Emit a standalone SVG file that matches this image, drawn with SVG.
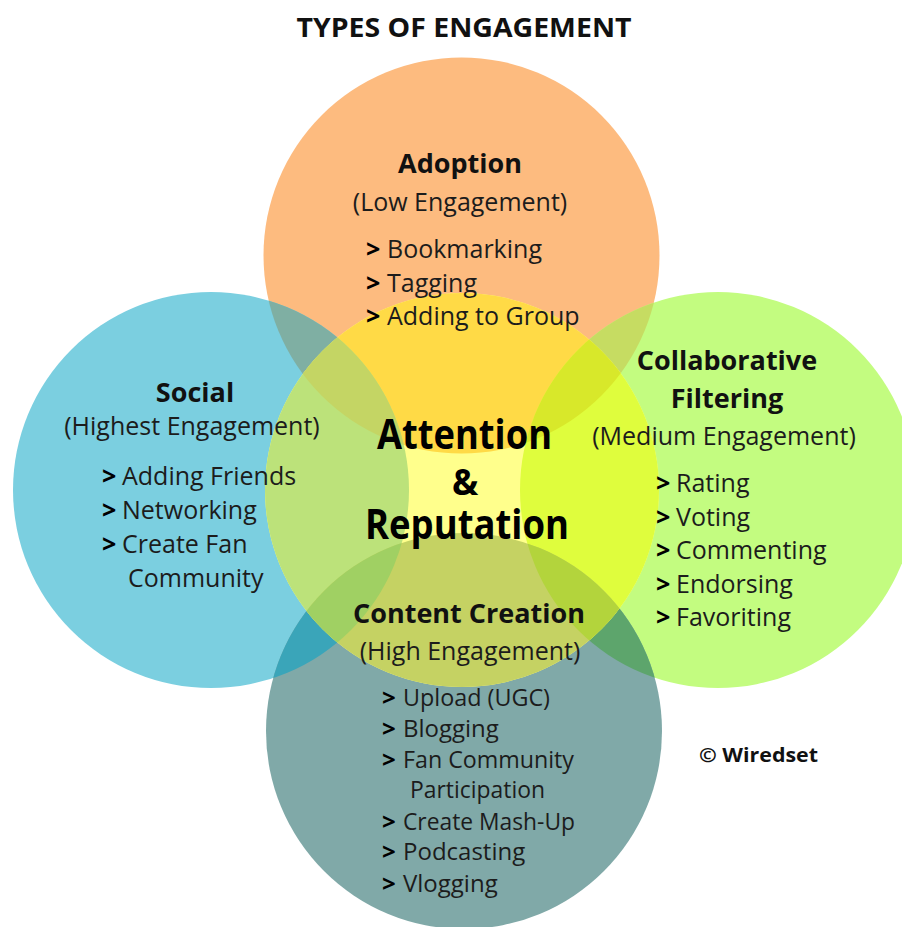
<svg xmlns="http://www.w3.org/2000/svg" width="902" height="927" viewBox="0 0 902 927">
<style>
text{font-family:"Open Sans","Liberation Sans",sans-serif;fill:#1c1c1c}
.h{font-weight:700;font-size:27px;fill:#111;text-anchor:middle}
.s{font-size:25px;text-anchor:middle}
.t{font-size:25px}
.u{font-size:24px}
.b{font-weight:700;fill:#000}
.big{font-weight:700;font-size:42px;fill:#000;text-anchor:middle}
</style>
<defs>
<clipPath id="cpO"><circle cx="461.5" cy="255.5" r="198"/></clipPath>
<clipPath id="cpT"><circle cx="464" cy="731" r="198"/></clipPath>
<clipPath id="cpC"><circle cx="462" cy="490" r="197"/></clipPath>
</defs>
<rect width="902" height="927" fill="#ffffff"/>
<g id="circles">
<circle id="c-adoption" cx="461.5" cy="255.5" r="198" fill="#FDBB7F"/>
<circle id="c-social" cx="211" cy="490" r="198" fill="#7BCFE0"/>
<circle id="c-collab" cx="718" cy="490" r="198" fill="#C3FC80"/>
<circle id="c-content" cx="464" cy="731" r="198" fill="#80A9A8"/>
<g clip-path="url(#cpO)">
<circle cx="211" cy="490" r="198" fill="#7FAFA3"/>
<circle cx="718" cy="490" r="198" fill="#C6DC62"/>
</g>
<g clip-path="url(#cpT)">
<circle cx="211" cy="490" r="198" fill="#3AA5B9"/>
<circle cx="718" cy="490" r="198" fill="#5DA56C"/>
</g>
<circle id="c-center" cx="462" cy="490" r="197" fill="#FFFF8C"/>
<g clip-path="url(#cpC)">
<circle cx="461.5" cy="255.5" r="198" fill="#FFDA46"/>
<circle cx="211" cy="490" r="198" fill="#BCE27A"/>
<circle cx="718" cy="490" r="198" fill="#DFFD3D"/>
<circle cx="464" cy="731" r="198" fill="#C5D263"/>
<g clip-path="url(#cpO)">
<circle cx="211" cy="490" r="198" fill="#C4D564"/>
<circle cx="718" cy="490" r="198" fill="#D8E82A"/>
</g>
<g clip-path="url(#cpT)">
<circle cx="211" cy="490" r="198" fill="#A0D063"/>
<circle cx="718" cy="490" r="198" fill="#B3D43C"/>
</g>
</g>
</g>
<g id="title">
<text class="h" x="464" y="37" textLength="335" lengthAdjust="spacingAndGlyphs">TYPES OF ENGAGEMENT</text>
</g>
<g id="adoption">
<text class="h" x="460" y="173">Adoption</text>
<text class="s" x="460" y="211">(Low Engagement)</text>
<text class="t" x="366" y="258"><tspan class="b">&gt;</tspan><tspan x="387">Bookmarking</tspan></text>
<text class="t" x="366" y="292"><tspan class="b">&gt;</tspan><tspan x="387">Tagging</tspan></text>
<text class="t" x="366" y="325"><tspan class="b">&gt;</tspan><tspan x="387">Adding to Group</tspan></text>
</g>
<g id="social">
<text class="h" x="195" y="402">Social</text>
<text class="s" x="192" y="435">(Highest Engagement)</text>
<text class="t" x="102" y="485"><tspan class="b">&gt;</tspan><tspan x="122">Adding Friends</tspan></text>
<text class="t" x="102" y="519"><tspan class="b">&gt;</tspan><tspan x="122">Networking</tspan></text>
<text class="t" x="102" y="553"><tspan class="b">&gt;</tspan><tspan x="122">Create Fan</tspan></text>
<text class="t" x="128" y="587">Community</text>
</g>
<g id="collab">
<text class="h" x="727" y="370">Collaborative</text>
<text class="h" x="727" y="408">Filtering</text>
<text class="s" x="724" y="445">(Medium Engagement)</text>
<text class="t" x="656" y="492"><tspan class="b">&gt;</tspan><tspan x="676">Rating</tspan></text>
<text class="t" x="656" y="526"><tspan class="b">&gt;</tspan><tspan x="676">Voting</tspan></text>
<text class="t" x="656" y="559"><tspan class="b">&gt;</tspan><tspan x="676">Commenting</tspan></text>
<text class="t" x="656" y="593"><tspan class="b">&gt;</tspan><tspan x="676">Endorsing</tspan></text>
<text class="t" x="656" y="626"><tspan class="b">&gt;</tspan><tspan x="676">Favoriting</tspan></text>
</g>
<g id="center">
<text class="big" x="464.5" y="449" textLength="175" lengthAdjust="spacingAndGlyphs">Attention</text>
<text class="big" x="465" y="495" style="font-size:35px">&amp;</text>
<text class="big" x="467" y="539" textLength="204" lengthAdjust="spacingAndGlyphs">Reputation</text>
</g>
<g id="content">
<text class="h" x="469" y="623">Content Creation</text>
<text class="s" x="470" y="660">(High Engagement)</text>
<text class="u" x="382" y="706"><tspan class="b">&gt;</tspan><tspan x="403" textLength="147" lengthAdjust="spacingAndGlyphs">Upload (UGC)</tspan></text>
<text class="u" x="382" y="737"><tspan class="b">&gt;</tspan><tspan x="403">Blogging</tspan></text>
<text class="u" x="382" y="768"><tspan class="b">&gt;</tspan><tspan x="403" textLength="171" lengthAdjust="spacingAndGlyphs">Fan Community</tspan></text>
<text class="u" x="410" y="798" textLength="135" lengthAdjust="spacingAndGlyphs">Participation</text>
<text class="u" x="382" y="830"><tspan class="b">&gt;</tspan><tspan x="403" textLength="172" lengthAdjust="spacingAndGlyphs">Create Mash-Up</tspan></text>
<text class="u" x="382" y="860"><tspan class="b">&gt;</tspan><tspan x="403">Podcasting</tspan></text>
<text class="u" x="382" y="892"><tspan class="b">&gt;</tspan><tspan x="403">Vlogging</tspan></text>
</g>
<g id="credit">
<text x="699" y="762" textLength="119" lengthAdjust="spacingAndGlyphs" style="font-weight:700;font-size:20px;fill:#111">© Wiredset</text>
</g>
</svg>
